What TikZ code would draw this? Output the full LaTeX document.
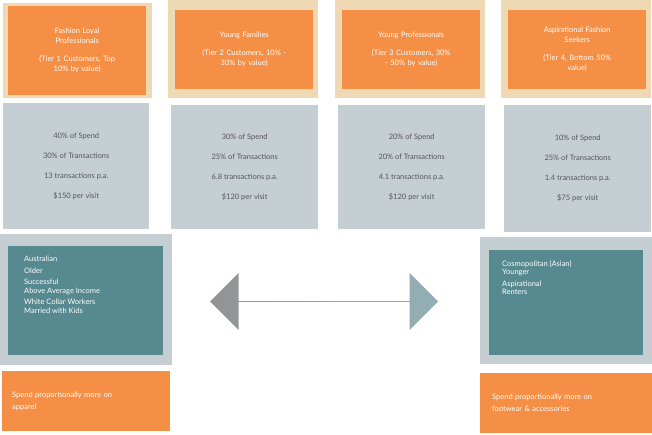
\documentclass[tikz,border=0pt]{standalone}
\usepackage{fontspec}
\setmainfont{Lato}
\usetikzlibrary{shapes.arrows}
\definecolor{orng}{HTML}{F58F45}
\definecolor{beige}{HTML}{EED9B4}
\definecolor{pale}{HTML}{C5CFD3}
\definecolor{teal2}{HTML}{568990}
\definecolor{txt}{HTML}{555555}
\begin{document}
\begin{tikzpicture}[x=1pt,y=-1pt,
back/.style ={rectangle, inner sep=0pt, anchor=north west},
tier/.style ={rectangle, fill=orng, text=white, align=center, anchor=north west, minimum width=138pt, minimum height=79pt, text width=120pt, font=\fontsize{7.5}{10}\selectfont},
stat/.style ={rectangle, fill=pale, text=txt, align=center, anchor=north west, minimum width=147pt, minimum height=124pt, font=\fontsize{7.5}{20}\selectfont},
prof/.style ={rectangle, fill=teal2, text=white, align=left, anchor=north west, inner sep=10pt, font=\fontsize{7.5}{11.5}\selectfont},
note/.style ={rectangle, fill=orng, text=white, align=left, anchor=north west, inner sep=10pt, text width=148pt, font=\fontsize{7.5}{12}\selectfont}]
\useasboundingbox (0,0) rectangle (652,435);

% tier headers
\fill[beige] (3,3) rectangle (152,98);
\fill[beige] (168,0) rectangle (318,98);
\fill[beige] (335,0) rectangle (485,98);
\fill[beige] (501,0) rectangle (651,98);
\node[tier, minimum height=89pt] (t1) at (8,6) {Fashion Loyal\\Professionals\\[8pt](Tier 1 Customers, Top\\10\% by value)};
\node[tier] (t2) at (175,10) {Young Families\\[8pt](Tier 2 Customers, 10\% -\\30\% by value)};
\node[tier] (t3) at (342,10) {Young Professionals\\[8pt](Tier 3 Customers, 30\%\\- 50\% by value)};
\node[tier] (t4) at (508,10) {Aspirational Fashion\\Seekers\\[8pt](Tier 4, Bottom 50\%\\value)};

% figures
\node[stat, minimum width=146pt, minimum height=126pt] (s1) at (3,103) {40\% of Spend\\30\% of Transactions\\13 transactions p.a.\\\$150 per visit};
\node[stat] (s2) at (171,105) {30\% of Spend\\25\% of Transactions\\6.8 transactions p.a.\\\$120 per visit};
\node[stat] (s3) at (338,105) {20\% of Spend\\20\% of Transactions\\4.1 transactions p.a.\\\$120 per visit};
\node[stat, minimum height=127pt] (s4) at (504,105) {10\% of Spend\\25\% of Transactions\\1.4 transactions p.a.\\\$75 per visit};

% profiles
\fill[pale] (0,234) rectangle (172,365);
\fill[pale] (480,237) rectangle (652,364);
\fill[teal2] (8,246) rectangle (163,355);
\fill[teal2] (489,250) rectangle (643,355);
\node[prof] (p1) at (14,246) {Australian\\Older\\Successful\\[-3pt]Above Average Income\\White Collar Workers\\[-3pt]Married with Kids};
\node[prof] (p2) at (492,250) {Cosmopolitan (Asian)\\[-3pt]Younger\\Aspirational\\[-3pt]Renters};

% notes
\node[note, minimum width=168pt, minimum height=60pt] (n1) at (2,371) {Spend proportionally more on\\apparel};
\node[note, minimum width=172pt, minimum height=60pt] (n2) at (480,373) {Spend proportionally more on\\footwear \& accessories};

% link
\node[double arrow, shading=axis, left color=gray!85, middle color=gray!10, right color=teal2!45!pale, shading angle=90, minimum width=57pt, minimum height=228pt, double arrow head extend=13.5pt, double arrow tip angle=90, inner sep=0pt] (link) at (324,301.5) {};
\end{tikzpicture}
\end{document}
